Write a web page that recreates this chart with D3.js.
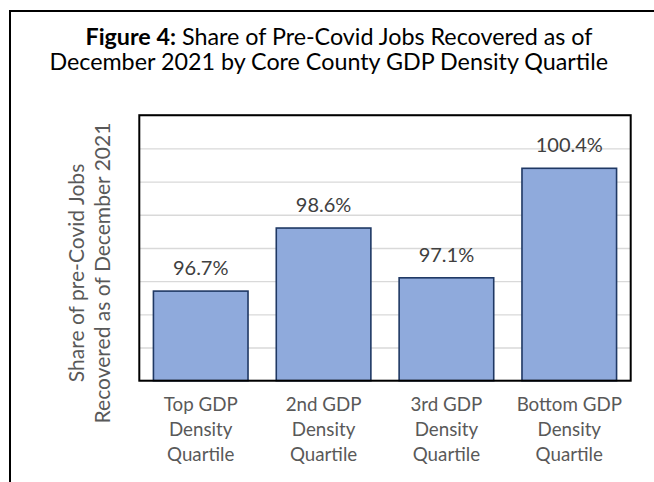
<!DOCTYPE html>
<html>
<head>
<meta charset="utf-8">
<script src="https://cdn.jsdelivr.net/npm/d3@7"></script>
<style>
  body { margin: 0; background: #fff; }
  svg { display: block; }
  text { font-family: Lato, "Open Sans", sans-serif; }
</style>
</head>
<body>
<svg id="chart" width="654" height="482"></svg>
<script>
// Quartile groups and the share of pre-Covid jobs recovered (percent)
const categories = [
  "Top GDP Density Quartile",
  "2nd GDP Density Quartile",
  "3rd GDP Density Quartile",
  "Bottom GDP Density Quartile"
];
const values = [96.7, 98.6, 97.1, 100.4];
const gridTicks = [94, 95, 96, 97, 98, 99, 100, 101, 102];

const titleLead = "Figure 4:";
const titleLines = [
  " Share of Pre-Covid Jobs Recovered as of",
  "December 2021 by Core County GDP Density Quartile"
];
const yTitleLines = ["Share of pre-Covid Jobs", "Recovered as of December 2021"];

const svg = d3.select("#chart");

// Plot area
const plot = { left: 139.3, top: 115.2, right: 630.7, bottom: 380.7 };

const x = d3.scaleBand()
  .domain(categories)
  .range([plot.left, plot.right])
  .paddingInner(0.23)
  .paddingOuter(0.115);

const y = d3.scaleLinear()
  .domain([94, 102])
  .range([plot.bottom, plot.top]);

// Scale a group of texts so that a reference element spans the given width
function fitGroup(sel, refNode, target) {
  const fs = parseFloat(d3.select(refNode).attr("font-size"));
  const w = refNode.getComputedTextLength();
  const nfs = fs * target / w;
  sel.attr("font-size", nfs);
  return nfs;
}

// Outer frame
svg.append("rect")
  .attr("x", 10).attr("y", 11)
  .attr("width", 700).attr("height", 520)
  .attr("fill", "none")
  .attr("stroke", "#000")
  .attr("stroke-width", 2);

// Title
const title = svg.append("g");
const t1 = title.append("text")
  .attr("x", 339).attr("y", 44.5)
  .attr("text-anchor", "middle")
  .attr("fill", "#000")
  .attr("font-size", 22);
t1.append("tspan").attr("font-weight", "bold").text(titleLead);
t1.append("tspan").text(titleLines[0]);
const t2 = title.append("text")
  .attr("x", 328.7).attr("y", 70)
  .attr("text-anchor", "middle")
  .attr("fill", "#000")
  .attr("font-size", 22)
  .text(titleLines[1]);
fitGroup(title.selectAll("text"), t2.node(), 559);

// Gridlines
const grid = svg.append("g")
  .attr("transform", `translate(${plot.left},0)`)
  .call(d3.axisLeft(y)
    .tickValues(gridTicks)
    .tickSize(-(plot.right - plot.left))
    .tickFormat(""));
grid.select(".domain").remove();
grid.selectAll(".tick line")
  .attr("stroke", "#d9d9d9")
  .attr("stroke-width", 1.4);

// Bars
svg.append("g")
  .selectAll("rect")
  .data(values)
  .join("rect")
  .attr("x", (d, i) => x(categories[i]))
  .attr("y", d => y(d))
  .attr("width", x.bandwidth())
  .attr("height", d => y(94) - y(d))
  .attr("fill", "#8faadc")
  .attr("stroke", "#1f3864")
  .attr("stroke-width", 1.6);

// Plot border
svg.append("rect")
  .attr("x", plot.left).attr("y", plot.top)
  .attr("width", plot.right - plot.left)
  .attr("height", plot.bottom - plot.top)
  .attr("fill", "none")
  .attr("stroke", "#000")
  .attr("stroke-width", 2);

// Value labels
const labels = svg.append("g")
  .selectAll("text")
  .data(values)
  .join("text")
  .attr("x", (d, i) => x(categories[i]) + x.bandwidth() / 2)
  .attr("y", d => y(d) - 16)
  .attr("text-anchor", "middle")
  .attr("fill", "#404040")
  .attr("font-size", 20)
  .text(d => d.toFixed(1) + "%");
fitGroup(labels, labels.nodes()[0], 55.6);

// Category labels (three lines each)
const catG = svg.append("g");
categories.forEach(c => {
  const words = c.split(" ");
  const lines = [words.slice(0, -2).join(" "), words[words.length - 2], words[words.length - 1]];
  const t = catG.append("text")
    .attr("x", x(c) + x.bandwidth() / 2)
    .attr("y", 410.5)
    .attr("text-anchor", "middle")
    .attr("fill", "#595959")
    .attr("font-size", 20);
  lines.forEach((l, j) => {
    t.append("tspan")
      .attr("x", x(c) + x.bandwidth() / 2)
      .attr("y", 410.5 + j * 25)
      .text(l);
  });
});
{
  const ref = catG.append("text").attr("font-size", 20).text("Top GDP");
  const fs = 20 * 74 / ref.node().getComputedTextLength();
  ref.remove();
  catG.selectAll("text").attr("font-size", fs);
}

// Y-axis title
const yt = svg.append("g").attr("transform", "translate(0,273)");
const ytTexts = yt.selectAll("text")
  .data(yTitleLines)
  .join("text")
  .attr("transform", (d, i) => `translate(${i === 0 ? 84 : 110},0) rotate(-90)`)
  .attr("text-anchor", "middle")
  .attr("fill", "#595959")
  .attr("font-size", 20)
  .text(d => d);
fitGroup(ytTexts, ytTexts.nodes()[1], 301);
</script>
</body>
</html>
